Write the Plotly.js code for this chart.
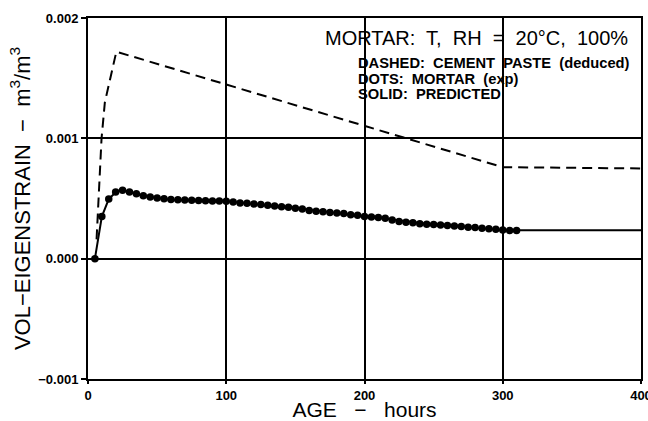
<!DOCTYPE html>
<html>
<head>
<meta charset="utf-8">
<script src="https://cdn.plot.ly/plotly-3.0.1.min.js"></script>
<style>
html,body{margin:0;padding:0;background:#fff;}
#chart{width:648px;height:421px;}
</style>
</head>
<body>
<div id="chart"></div>
<script>
// Dashed: cement paste (deduced)
const pasteAge    = [6.2, 8.6, 9.8, 12.2, 15.8, 20.5, 300, 400];
const pasteStrain = [0.00016, 0.00069, 0.00100, 0.00130, 0.00149, 0.00172, 0.00076, 0.00075];

// Dots: mortar (experimental)
const mortarAge = [5,10,15,20,25,30,35,40,45,50,55,60,65,70,75,80,85,90,95,100,
  105,110,115,120,125,130,135,140,145,150,155,160,165,170,175,180,185,190,195,200,
  205,210,215,220,225,230,235,240,245,250,255,260,265,270,275,280,285,290,295,300,305,310];
const mortarStrain = [0,0.000350,0.000495,0.000555,0.000568,0.000555,0.000540,0.000522,0.000512,0.000505,
  0.000497,0.000492,0.000490,0.000488,0.000486,0.000484,0.000482,0.000480,0.000479,0.000478,
  0.000470,0.000462,0.000460,0.000455,0.000450,0.000443,0.000438,0.000432,0.000428,0.000420,
  0.000412,0.000400,0.000395,0.000390,0.000383,0.000380,0.000375,0.000365,0.000360,0.000350,
  0.000346,0.000342,0.000335,0.000322,0.000308,0.000303,0.000298,0.000290,0.000287,0.000284,
  0.000280,0.000276,0.000272,0.000268,0.000262,0.000258,0.000252,0.000248,0.000244,0.000238,
  0.000235,0.000234];

// Solid: predicted
const predAge    = [5, 10, 15, 21, 25, 40, 60, 100, 150, 200, 250, 300, 310, 400];
const predStrain = [0, 0.00035, 0.000495, 0.000562, 0.000568, 0.00052, 0.00049, 0.000478, 0.00042, 0.00035, 0.000285, 0.000238, 0.000236, 0.000236];

const xTicks = [0, 100, 200, 300, 400];
const yTicks = [-0.001, 0.000, 0.001, 0.002];

const FONT = 'Liberation Sans, Arial, sans-serif';

const traces = [
  {x: pasteAge, y: pasteStrain, mode: 'lines', type: 'scatter',
   line: {color: '#000', width: 2, dash: '10px,6px'}},
  {x: predAge, y: predStrain, mode: 'lines', type: 'scatter',
   line: {color: '#000', width: 2}},
  {x: mortarAge, y: mortarStrain, mode: 'markers', type: 'scatter',
   marker: {color: '#000', size: 7.5}}
];

const axisCommon = {
  showline: true, mirror: true, linecolor: '#000', linewidth: 2,
  showgrid: true, gridcolor: '#000', gridwidth: 2,
  zeroline: false, ticks: 'outside', ticklen: 5, tickcolor: '#000', tickwidth: 2,
  ticklabeloverflow: 'allow',
  tickfont: {family: FONT, size: 13, color: '#000', weight: 700}
};

const layout = {
  width: 648, height: 421,
  margin: {l: 88, r: 7, t: 18, b: 42},
  paper_bgcolor: '#fff', plot_bgcolor: '#fff',
  showlegend: false,
  xaxis: Object.assign({}, axisCommon, {
    range: [0, 400], tickvals: xTicks, ticktext: xTicks.map(String), ticklen: 3,
    title: {text: 'AGE   \u2212   hours', standoff: 4,
            font: {family: FONT, size: 21, color: '#000'}}
  }),
  yaxis: Object.assign({}, axisCommon, {
    range: [-0.001, 0.002], tickvals: yTicks, tickformat: '.3f',
    title: {text: 'VOL\u2212EIGENSTRAIN  \u2212  m<sup>3</sup>/m<sup>3</sup>', standoff: 2,
            font: {family: FONT, size: 22, color: '#000'}}
  }),
  annotations: [
    {xref: 'paper', yref: 'paper', x: 0.98, y: 0.945, xanchor: 'right', yanchor: 'middle',
     text: 'MORTAR:  T,  RH  =  20\u00B0C,  100%', showarrow: false,
     font: {family: FONT, size: 20, color: '#000'}},
    {xref: 'paper', yref: 'paper', x: 0.484, y: 0.874, xanchor: 'left', yanchor: 'middle',
     showarrow: false, text: 'DASHED:  CEMENT  PASTE  (deduced)',
     font: {family: FONT, size: 14.7, color: '#000', weight: 700}},
    {xref: 'paper', yref: 'paper', x: 0.484, y: 0.830, xanchor: 'left', yanchor: 'middle',
     showarrow: false, text: 'DOTS:  MORTAR  (exp)',
     font: {family: FONT, size: 14.7, color: '#000', weight: 700}},
    {xref: 'paper', yref: 'paper', x: 0.484, y: 0.789, xanchor: 'left', yanchor: 'middle',
     showarrow: false, text: 'SOLID:  PREDICTED',
     font: {family: FONT, size: 14.7, color: '#000', weight: 700}}
  ]
};

Plotly.newPlot('chart', traces, layout, {displayModeBar: false, staticPlot: true});
</script>
</body>
</html>
